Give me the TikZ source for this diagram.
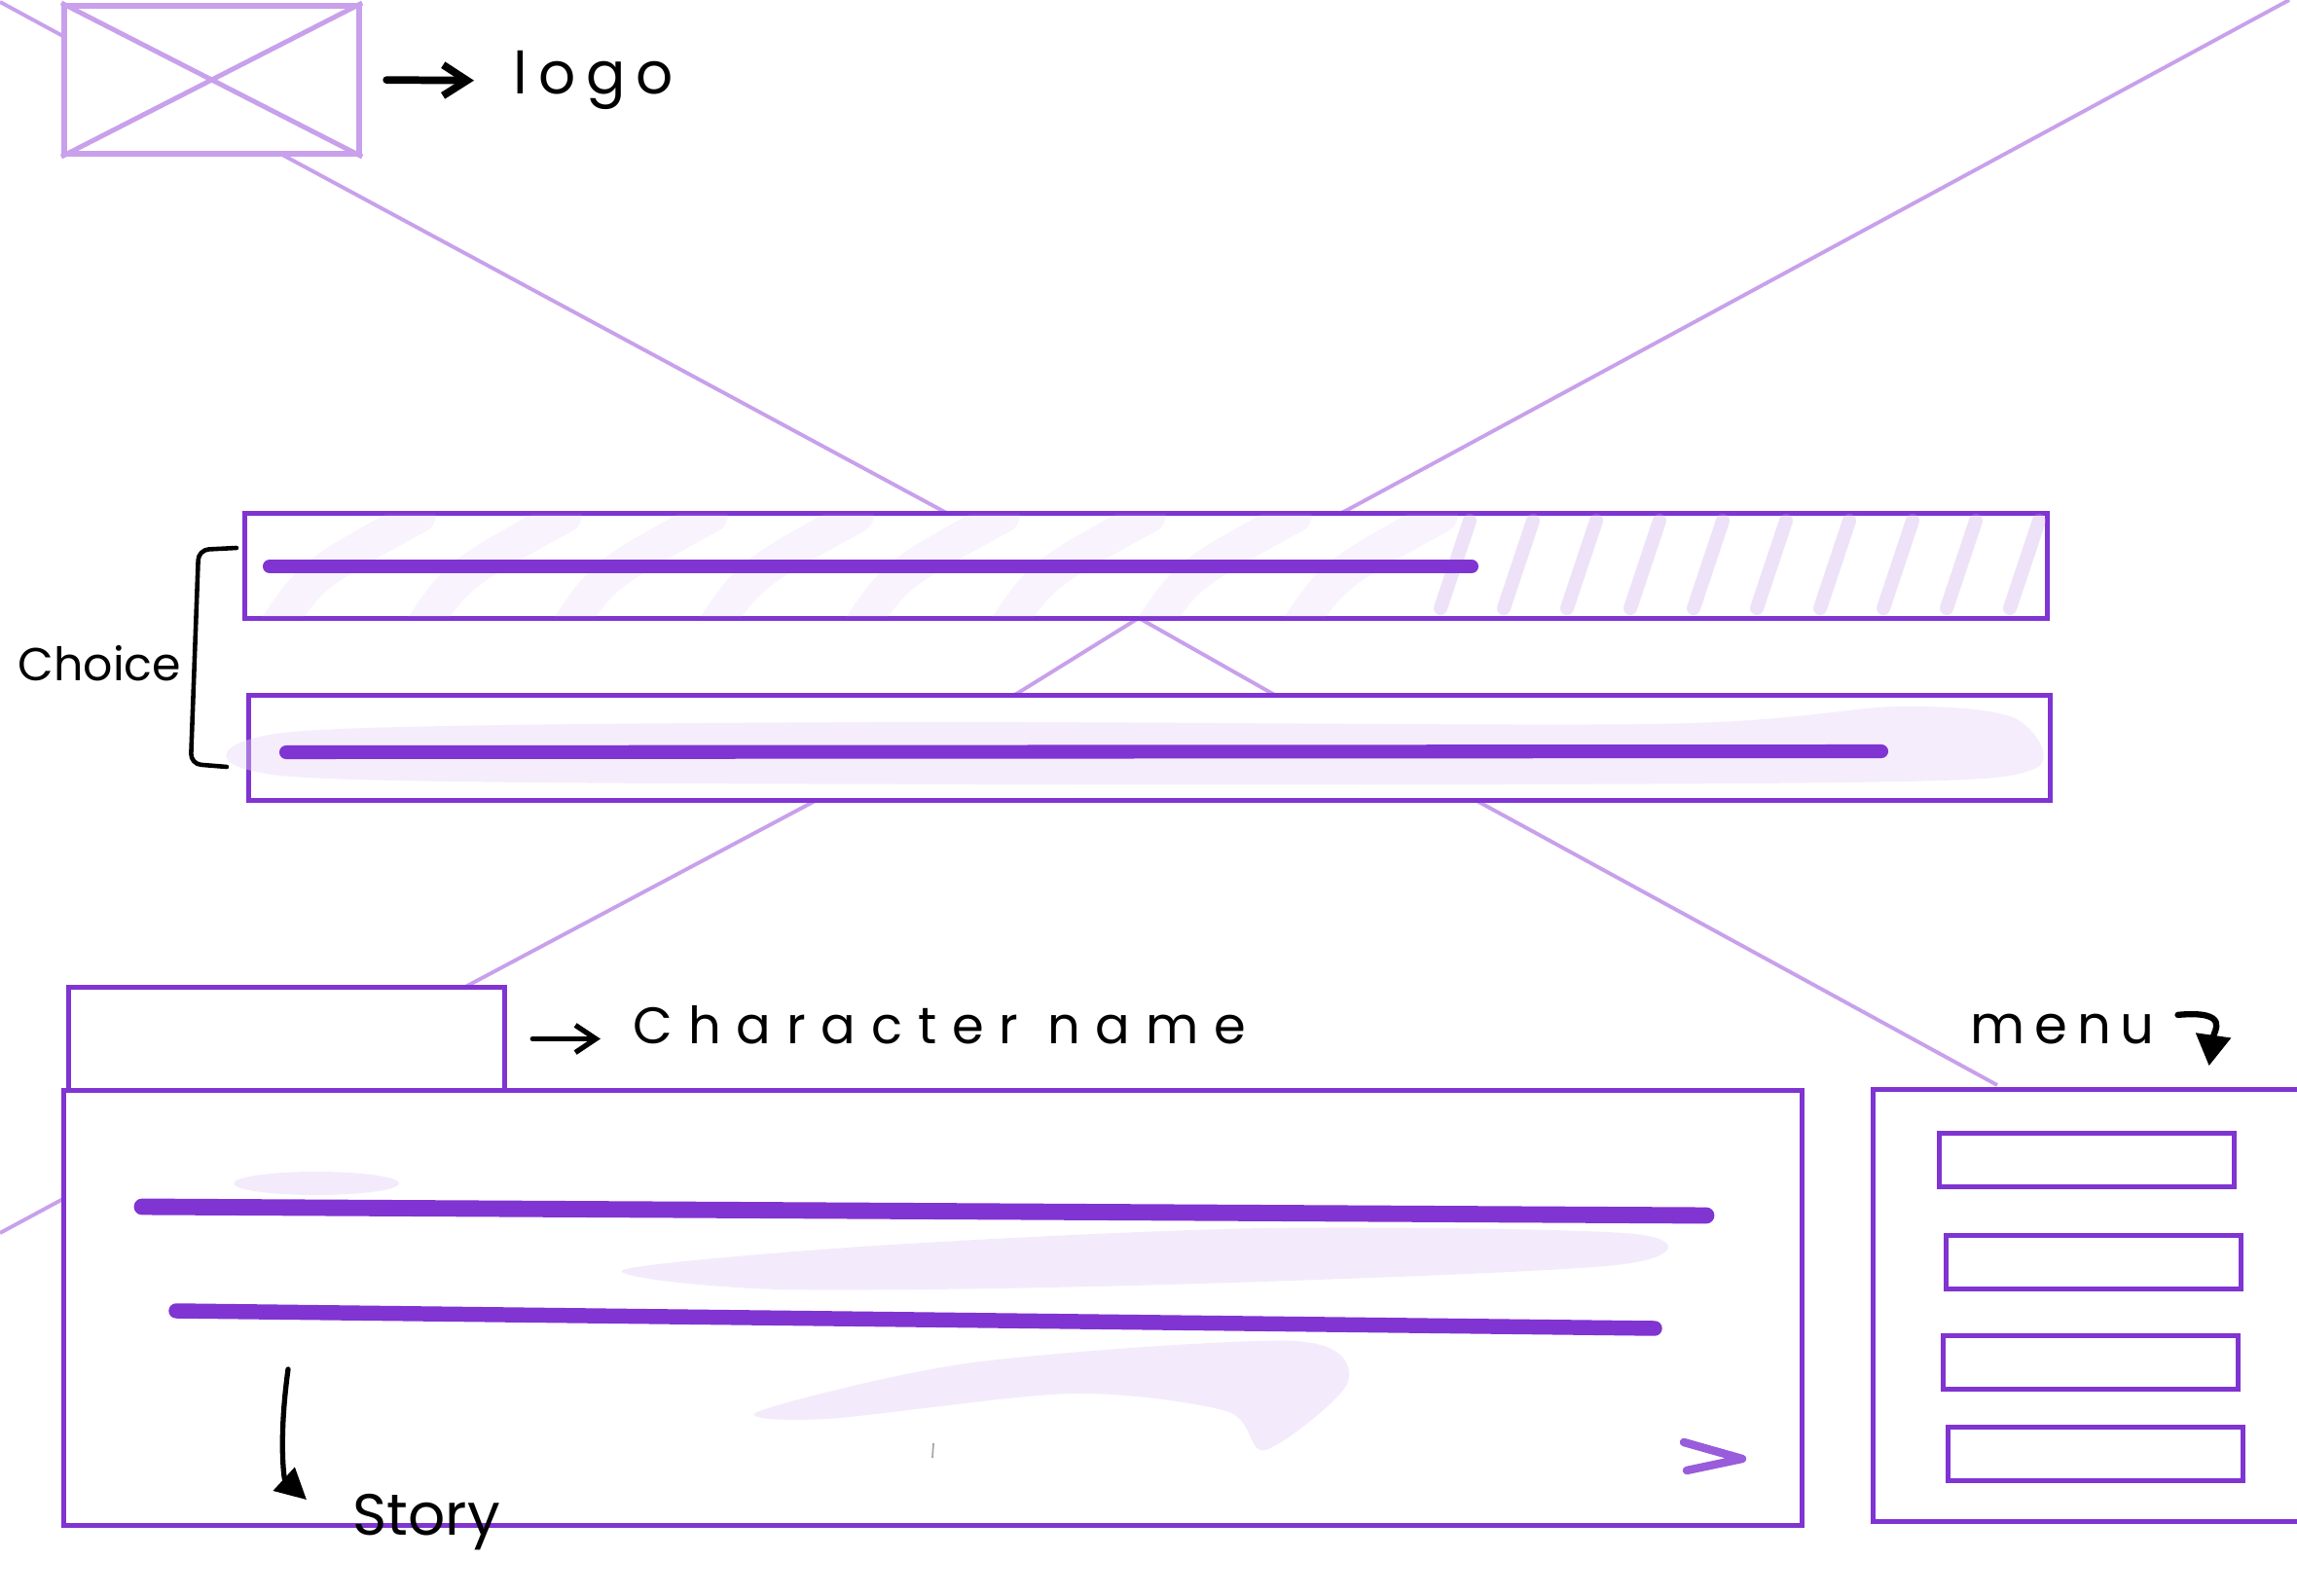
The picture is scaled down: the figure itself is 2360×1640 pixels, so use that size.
\documentclass[tikz,border=0pt]{standalone}
\usepackage{fontspec}
\usetikzlibrary{arrows.meta}

\newfontfamily\handfont{Poppins}
\newfontfamily\handwide[LetterSpace=30]{Poppins}
\newfontfamily\handmid[LetterSpace=18]{Poppins}

\definecolor{crayon}{HTML}{8034D2}
\definecolor{lilac}{HTML}{C8A0EB}
\definecolor{haze}{HTML}{E6D4F8}

\begin{document}
\begin{tikzpicture}[x=0.01cm, y=-0.01cm,
  box/.style={draw=crayon, line width=1.4pt, fill=white, inner sep=0pt, anchor=north west},
  wire/.style={draw=lilac, line width=1.1pt},
  textline/.style={crayon, line width=4pt, line cap=round},
  hatch/.style={lilac, line cap=round, opacity=0.3},
  hand/.style={inner sep=0pt, anchor=base west, text=black},
  pen/.style={black, line width=1.5pt, line cap=round}
]

\useasboundingbox (0,0) rectangle (2360,1640);

% Big placeholder cross
\draw[wire] (0,2) -- (277,152) -- (965,523) -- (1170,635) -- (1306,712) -- (1512,820) -- (2052,1115);
\draw[wire] (2352,0) -- (1388,522) -- (1170,635) -- (1046,712) -- (843,820) -- (482,1012) -- (63,1233) -- (0,1267);

% Logo
\node[box, draw=lilac, line width=1.7pt, minimum width=3.03cm, minimum height=1.52cm] (logo) at (63,3) {};
\draw[wire, line width=1.4pt] (logo.north west) -- (logo.south east);
\draw[wire, line width=1.4pt] (logo.north east) -- (logo.south west);
\node[hand, font=\handmid\fontsize{17}{20}\selectfont] (logotxt) at (527,97) {logo};
\draw[pen, line width=2.2pt, -{Straight Barb[length=7pt, width=9pt]}, shorten <=2.5mm, shorten >=4mm] (logo.east) -- (logotxt.west);

% Choices
\node[box, minimum width=18.51cm, minimum height=1.08cm] (choice1) at (249,525) {};
\begin{scope}
  \clip ([shift={(4,4)}]choice1.north west) rectangle ([shift={(-4,-4)}]choice1.south east);
  \foreach \x in {280,430,...,1460}
    \draw[hatch, line width=10pt, opacity=0.12] (\x,650) .. controls (\x+40,590) .. (\x+150,530);
  \foreach \x in {1480,1545,...,2080}
    \draw[hatch, line width=4pt] (\x,625) -- (\x+30,535);
\end{scope}
\draw[textline] (277,582) -- (1512,582);

\node[box, minimum width=18.50cm, minimum height=1.08cm] (choice2) at (253,712) {};
\fill[haze, opacity=0.4] plot[smooth cycle] coordinates {(300,752) (900,742) (1700,744) (1950,726) (2070,738) (2090,790) (1900,804) (1000,806) (300,798)};
\draw[textline] (294,773) -- (1933,772);

\draw[pen, line width=1.3pt, rounded corners=3pt] (243,563) -- (204,565) -- (196,785) -- (233,788);
\node[hand, font=\handfont\fontsize{13.5}{16}\selectfont] (choicetxt) at (18,700) {Choice};

% Dialogue box
\node[box, minimum width=4.48cm, minimum height=1.06cm] (charname) at (68,1012) {};
\node[box, minimum width=17.85cm, minimum height=4.47cm] (story) at (63,1118) {};

\fill[haze, opacity=0.45] (325,1216) ellipse [x radius=85, y radius=12];
\fill[haze, opacity=0.45] plot[smooth cycle] coordinates {(640,1305) (900,1280) (1300,1262) (1680,1268) (1660,1300) (1200,1320) (800,1325)};
\fill[haze, opacity=0.45] plot[smooth cycle] coordinates {(780,1450) (1000,1400) (1330,1378) (1385,1420) (1300,1490) (1260,1450) (1100,1432) (850,1458)};

\draw[textline, line width=4.8pt] (146,1240) -- (1753,1249);
\draw[textline, line width=4.4pt] (181,1347) -- (1700,1365);
\draw[crayon, line width=2.4pt, line cap=round, line join=round, opacity=0.8] (1730,1482) -- (1790,1499) -- (1733,1511);
\draw[gray!70, line width=0.5pt] (959,1483) -- (958,1498);

\node[hand, font=\handwide\fontsize{15}{18}\selectfont] (charnametxt) at (650,1072) {Character name};
\draw[pen, -{Straight Barb[length=6pt, width=8pt]}, shorten <=2.6mm, shorten >=3.3mm] (charname.east) -- (charname.east -| charnametxt.west);

\coordinate (storytail) at (296,1407);
\node[hand, font=\handfont\fontsize{17}{20}\selectfont] (storytxt) at (362,1577) {Story};
\draw[pen, -{Triangle[length=9pt, width=9pt]}] (storytail) .. controls (286,1480) and (292,1520) .. ([shift={(-47,7)}]storytxt.north west);

% Menu
\node[box, minimum width=4.6cm, minimum height=4.44cm] (menu) at (1922,1117) {};
\foreach \i/\x/\y in {1/1990/1162, 2/1997/1267, 3/1994/1370, 4/1999/1464}
  \node[box, line width=1.3pt, minimum width=3.03cm, minimum height=0.55cm] (item\i) at (\x,\y) {};

\node[hand, font=\handmid\fontsize{15.5}{18}\selectfont] (menutxt) at (2024,1072) {menu};
\draw[pen, line width=1.8pt, -{Triangle[length=9pt, width=10pt]}] ([xshift=2.3mm, yshift=-0.2mm]menutxt.north east) .. controls +(55,-5) and +(5,-35) .. ([xshift=5.5mm, yshift=-2.2mm]menutxt.south east);

\end{tikzpicture}
\end{document}
